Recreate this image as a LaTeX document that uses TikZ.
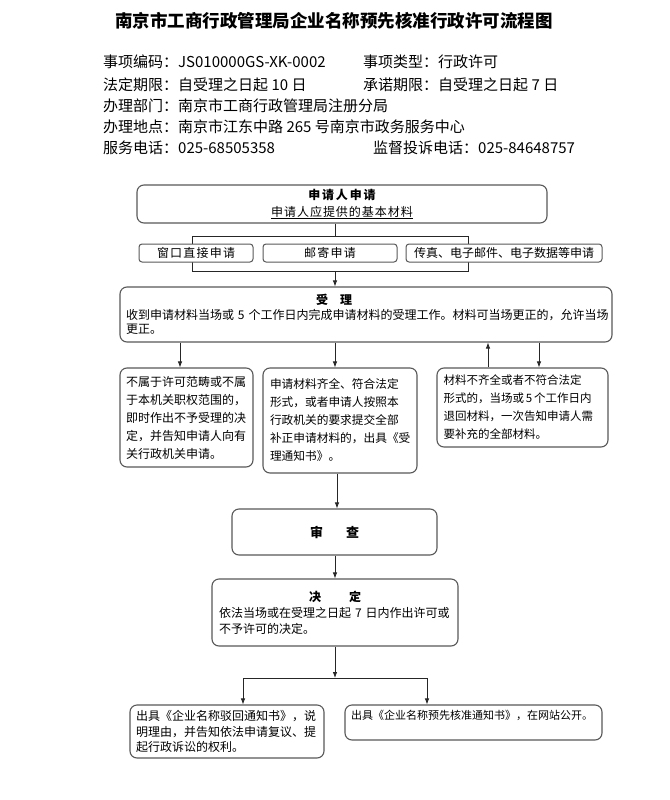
\documentclass[tikz,border=0pt]{standalone}
\usepackage{fontspec}
\setmainfont{Noto Sans CJK SC}
\usetikzlibrary{arrows.meta,calc}
\tikzset{
  box/.style={draw=black!65, line width=1.1pt, rounded corners=7pt, fill=white, inner sep=0pt},
  smallbox/.style={draw=black!65, line width=1pt, rounded corners=3pt, fill=white, inner sep=0pt, minimum height=18pt, font=\fontsize{12}{14}\selectfont},
  arr/.style={-{Latex[length=6pt,width=4.5pt]}, line width=0.8pt, black!85},
  ln/.style={line width=0.8pt, black!85},
  hdr/.style={anchor=west, inner sep=0pt, font=\fontsize{15}{18}\selectfont},
  txt12/.style={font=\fontsize{12}{18}\selectfont, align=left},
}
\begin{document}
\begin{tikzpicture}[x=1pt,y=-1pt]
\useasboundingbox (0,0) rectangle (669,800);
\fill[white] (0,0) rectangle (669,800);

% title
\node[inner sep=0pt, font=\fontsize{17.5}{20}\selectfont\bfseries] (title) at (334,21) {南京市工商行政管理局企业名称预先核准行政许可流程图};

% header
\node[hdr] (h1) at (103,62) {事项编码：JS010000GS-XK-0002};
\node[hdr] (h2) at (363,62) {事项类型：行政许可};
\node[hdr] (h3) at (103,85) {法定期限：自受理之日起 10 日};
\node[hdr] (h4) at (363,85) {承诺期限：自受理之日起 7 日};
\node[hdr] (h5) at (103,106) {办理部门：南京市工商行政管理局注册分局};
\node[hdr] (h6) at (103,127) {办理地点：南京市江东中路 265 号南京市政务服务中心};
\node[hdr] (h7) at (103,148) {服务电话：025-68505358};
\node[hdr] (h8) at (373,148) {监督投诉电话：025-84648757};

% coordinates for connector lines
\coordinate (xc) at (335,0);
\coordinate (xl) at (180,0);
\coordinate (xm) at (337,0);
\coordinate (xu) at (488,0);
\coordinate (xd) at (539,0);
\coordinate (brTL) at (192,236);
\coordinate (brBR) at (468,271);

% bracket behind small boxes
\draw[ln] (brTL) rectangle (brBR);

% box 1
\node[box, minimum width=410pt, minimum height=38pt, align=center, font=\fontsize{12}{17}\selectfont] (apply) at (342,204)
  {{\bfseries\addfontfeature{LetterSpace=15}申请人申请}\\\underline{\addfontfeature{LetterSpace=8}申请人应提供的基本材料}};

% small boxes
\node[smallbox, minimum width=114pt] (win) at (196,253) {\addfontfeature{LetterSpace=10}窗口直接申请};
\node[smallbox, minimum width=134pt] (mail) at (330,253) {\addfontfeature{LetterSpace=10}邮寄申请};
\node[smallbox, minimum width=196pt] (fax) at (504,253) {传真、电子邮件、电子数据等申请};

% acceptance box
\node[box, minimum width=492pt, minimum height=55pt, text width=480pt, align=left, font=\fontsize{12}{14.5}\selectfont] (accept) at (366,314.5)
  {\hspace*{190pt}{\bfseries 受\hspace{12pt}理}\\
   收到申请材料当场或 5 个工作日内完成申请材料的受理工作。材料可当场更正的，允许当场\\
   更正。};

\draw[ln] (apply.south -| xc) -- (brTL -| xc);
\draw[arr] (brBR -| xc) -- (accept.north -| xc);

% three outcome boxes
\node[box, minimum width=133pt, minimum height=99pt, text width=121pt, txt12] (refuse) at (186.5,417.5)
  {不属于许可范畴或不属\\于本机关职权范围的，\\即时作出不予受理的决\\定，并告知申请人向有\\关行政机关申请。};
\node[box, minimum width=154pt, minimum height=105pt, text width=140pt, align=left, font=\fontsize{11.7}{18}\selectfont] (ok) at (340,420.5)
  {申请材料齐全、符合法定\\形式，或者申请人按照本\\行政机关的要求提交全部\\补正申请材料的，出具《受\\理通知书》。};
\node[box, minimum width=171pt, minimum height=79pt, text width=158pt, align=left, font=\fontsize{11.5}{18}\selectfont] (incomplete) at (522.5,407.5)
  {材料不齐全或者不符合法定\\形式的，当场或\,5\,个工作日内\\退回材料，一次告知申请人需\\要补充的全部材料。};

\draw[arr] (accept.south -| xl) -- (refuse.north -| xl);
\draw[arr] (accept.south -| xc) -- (ok.north -| xc);
\draw[arr] (incomplete.north -| xu) -- (accept.south -| xu);
\draw[arr] (accept.south -| xd) -- (incomplete.north -| xd);

% review
\node[box, minimum width=205pt, minimum height=46pt, font=\fontsize{13}{15}\selectfont\bfseries] (review) at (334.5,532) {审\hspace{23pt}查};
\draw[arr] (ok.south -| xm) -- (review.north -| xm);

% decision
\node[box, minimum width=246pt, minimum height=67pt, text width=232pt, align=left, font=\fontsize{12}{16}\selectfont] (decide) at (335,612.5)
  {\makebox[\linewidth]{\bfseries 决\hspace{28pt}定}\\
   依法当场或在受理之日起 7 日内作出许可或\\
   不予许可的决定。};
\draw[arr] (review.south -| xc) -- (decide.north -| xc);

% final split
\coordinate (jn) at (335,678);
\coordinate (jl) at (243,678);
\coordinate (jr) at (427,678);
\node[box, minimum width=194pt, minimum height=53pt, text width=182pt, align=left, font=\fontsize{12}{15.5}\selectfont] (reject) at (227,731.5)
  {出具《企业名称驳回通知书》，说\\明理由，并告知依法申请复议、提\\起行政诉讼的权利。};
\node[box, minimum width=257pt, minimum height=35pt, text width=245pt, align=left, font=\fontsize{11}{15}\selectfont] (approve) at (473.5,722.5)
  {出具《企业名称预先核准通知书》，在网站公开。\\\mbox{}};

\draw[arr] (decide.south -| jn) -- (jn);
\draw[ln] (jl) -- (jr);
\draw[arr] (jl) -- (reject.north -| jl);
\draw[arr] (jr) -- (approve.north -| jr);
\end{tikzpicture}
\end{document}
